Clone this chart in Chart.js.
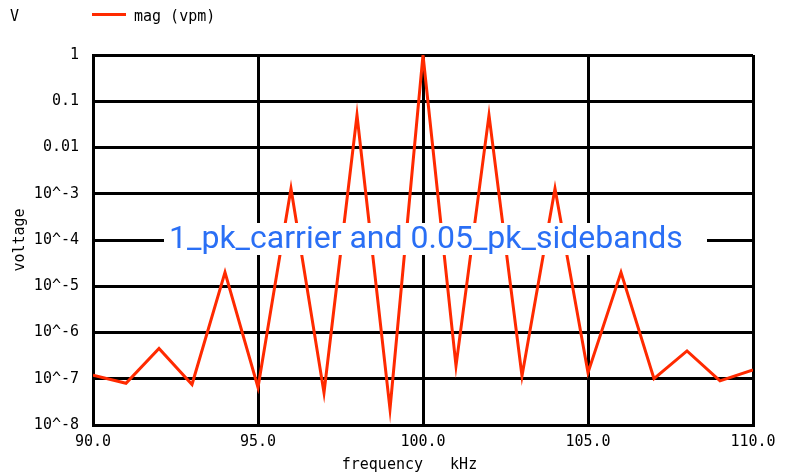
<!DOCTYPE html>
<html>
<head>
<meta charset="utf-8">
<script src="https://cdn.jsdelivr.net/npm/chart.js@4.4.1/dist/chart.umd.min.js"></script>
<style>
  html, body { margin: 0; padding: 0; background: #fff; }
  #wrap { width: 789px; height: 475px; position: relative; }
</style>
</head>
<body>
<div id="wrap"><canvas id="chart" width="789" height="475"></canvas></div>
<script>
// SECTION: data
const freqKHz = [90, 91, 92, 93, 94, 95, 96, 97, 98, 99, 100, 101, 102, 103, 104, 105, 106, 107, 108, 109, 110];
const magVpm = [
  1.2e-7, 8e-8, 4.5e-7, 7.5e-8, 2e-5, 6.5e-8, 1.3e-3, 5e-8, 0.05, 2.2e-8,
  1.0, 1.9e-7, 0.05, 1.15e-7, 1.3e-3, 1.35e-7, 2e-5, 1e-7, 4e-7, 9e-8, 1.55e-7
];
const xTickValues = [90, 95, 100, 105, 110];
const xTickLabels = ['90.0', '95.0', '100.0', '105.0', '110.0'];
const yTickValues = [1e-8, 1e-7, 1e-6, 1e-5, 1e-4, 1e-3, 0.01, 0.1, 1];
const yTickLabels = ['10^-8', '10^-7', '10^-6', '10^-5', '10^-4', '10^-3', '0.01', '0.1', '1'];

const seriesName = 'mag (vpm)';
const unitLabel = 'V';
const noteText = '1_pk_carrier and 0.05_pk_sidebands';

const RED = '#ff2a00';
const BLUE = '#2a6ff5';
const MONO = '"DejaVu Sans Mono", monospace';

(() => {
  const pickLabel = (values, labels, v) => {
    const i = values.findIndex((t) => Math.abs(t - v) <= Math.abs(t) * 1e-6);
    return i >= 0 ? labels[i] : '';
  };

  // legend line, unit letter and the boxed note
  const decorations = {
    id: 'decorations',
    afterDraw(chart) {
      const { ctx } = chart;
      ctx.save();
      ctx.font = `15px ${MONO}`;
      ctx.fillStyle = '#000';
      ctx.textBaseline = 'middle';
      ctx.textAlign = 'left';
      ctx.fillText(unitLabel, 10, 17);

      ctx.strokeStyle = RED;
      ctx.lineWidth = 3;
      ctx.beginPath();
      ctx.moveTo(92, 14.5);
      ctx.lineTo(126, 14.5);
      ctx.stroke();
      ctx.fillText(seriesName, 134, 17);

      // note with white backing
      ctx.fillStyle = '#fff';
      ctx.fillRect(164, 223, 543, 32);
      ctx.font = '32px Roboto, sans-serif';
      ctx.fillStyle = BLUE;
      ctx.textBaseline = 'alphabetic';
      ctx.fillText(noteText, 169, 248);
      ctx.restore();
    }
  };

  const init = () => {
    const ctx = document.getElementById('chart').getContext('2d');
    new Chart(ctx, {
      type: 'line',
      data: {
        datasets: [{
          label: seriesName,
          data: freqKHz.map((f, i) => ({ x: f, y: magVpm[i] })),
          borderColor: RED,
          backgroundColor: RED,
          borderWidth: 3,
          pointRadius: 0,
          tension: 0
        }]
      },
      options: {
        responsive: false,
        animation: false,
        layout: { padding: { top: 55, right: 36, left: 0, bottom: 0 } },
        plugins: {
          legend: { display: false },
          tooltip: { enabled: false }
        },
        scales: {
          x: {
            type: 'linear',
            min: 90,
            max: 110,
            afterBuildTicks: (scale) => { scale.ticks = xTickValues.map((value) => ({ value })); },
            afterFit: (scale) => { scale.height = 50; },
            ticks: {
              padding: 8,
              color: '#000',
              maxRotation: 0,
              font: { family: MONO, size: 15 },
              callback: (v) => pickLabel(xTickValues, xTickLabels, v)
            },
            grid: { color: '#000', lineWidth: 3, drawTicks: false },
            border: { color: '#000', width: 3 },
            title: {
              display: true,
              text: 'frequency   kHz   ',
              color: '#000',
              font: { family: MONO, size: 15 },
              padding: { top: 0, bottom: 1 }
            }
          },
          y: {
            type: 'logarithmic',
            min: 1e-8,
            max: 1,
            afterBuildTicks: (scale) => { scale.ticks = yTickValues.map((value) => ({ value })); },
            afterFit: (scale) => { scale.width = 93; },
            ticks: {
              padding: 14,
              color: '#000',
              font: { family: MONO, size: 15 },
              callback: (v) => pickLabel(yTickValues, yTickLabels, v)
            },
            grid: { color: '#000', lineWidth: 3, drawTicks: false },
            border: { color: '#000', width: 3 },
            title: {
              display: true,
              text: 'voltage',
              color: '#000',
              font: { family: MONO, size: 15 },
              padding: { top: 11, bottom: 0 }
            }
          }
        }
      },
      plugins: [decorations]
    });
  };

  if (document.readyState === 'loading') {
    document.addEventListener('DOMContentLoaded', init, { once: true });
  } else {
    init();
  }
})();
</script>
</body>
</html>
